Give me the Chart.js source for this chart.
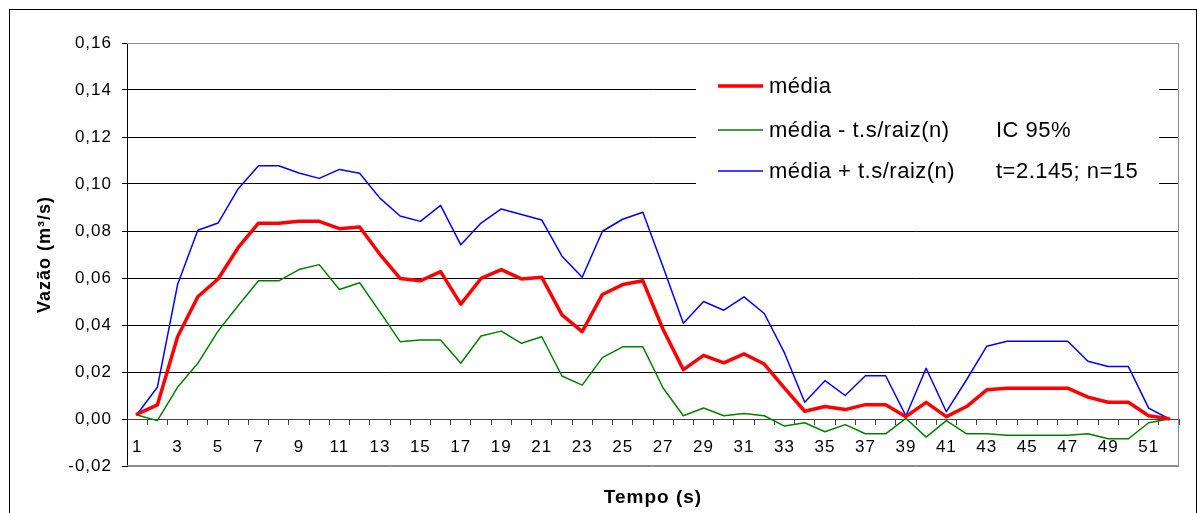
<!DOCTYPE html>
<html lang="pt">
<head>
<meta charset="utf-8">
<title>Vazão x Tempo</title>
<script src="https://cdn.jsdelivr.net/npm/chart.js@4.4.1/dist/chart.umd.min.js"></script>
<style>
  html, body { margin: 0; padding: 0; background: #fff; }
  #wrap { position: relative; width: 1199px; height: 513px; }
</style>
</head>
<body>
<div id="wrap"><canvas id="chart" width="1199" height="513"></canvas></div>
<script>
const FONT = "'Liberation Sans', Arial, sans-serif";

// tempo (s): 1..52
const tempo = [
  1, 2, 3, 4, 5, 6, 7, 8, 9, 10, 11, 12, 13, 14, 15, 16, 17, 18, 19, 20, 21, 22, 23, 24, 25, 26,
  27, 28, 29, 30, 31, 32, 33, 34, 35, 36, 37, 38, 39, 40, 41, 42, 43, 44, 45, 46, 47, 48, 49, 50, 51, 52
];

const media = [
  0.0021, 0.006, 0.035, 0.052, 0.0596, 0.073, 0.0833, 0.0833, 0.0841, 0.0841, 0.081, 0.0817, 0.0701,
  0.0598, 0.0588, 0.0627, 0.0489, 0.0598, 0.0636, 0.0596, 0.0603, 0.0443, 0.0372, 0.053, 0.0572, 0.0588,
  0.0381, 0.021, 0.0271, 0.0239, 0.0277, 0.0234, 0.0131, 0.0033, 0.0053, 0.004, 0.0061, 0.0061, 0.001,
  0.0071, 0.001, 0.0053, 0.0124, 0.0131, 0.0131, 0.0131, 0.0131, 0.0093, 0.0071, 0.0071, 0.0014, 0.0001
];

const mediaMenos = [
  0.0017, -0.0007, 0.0135, 0.0237, 0.0374, 0.0483, 0.0588, 0.0588, 0.0636, 0.0657, 0.0551, 0.058, 0.0456,
  0.0329, 0.0336, 0.0336, 0.0237, 0.0353, 0.0374, 0.0322, 0.035, 0.0183, 0.0144, 0.0261, 0.0307, 0.0307,
  0.0132, 0.0014, 0.0047, 0.0014, 0.0023, 0.0014, -0.003, -0.0016, -0.0054, -0.0024, -0.0063, -0.0063, 0.0003,
  -0.0077, -0.0007, -0.0063, -0.0063, -0.0069, -0.0069, -0.0069, -0.0069, -0.0063, -0.0084, -0.0084, -0.0016, 0
];

const mediaMais = [
  0.002, 0.0135, 0.0572, 0.0803, 0.0834, 0.098, 0.1078, 0.1078, 0.1047, 0.1024, 0.1062, 0.1046, 0.094,
  0.0864, 0.0841, 0.0909, 0.0741, 0.0834, 0.0894, 0.087, 0.0847, 0.0693, 0.0603, 0.0799, 0.085, 0.088,
  0.0647, 0.0407, 0.05, 0.0463, 0.052, 0.0449, 0.0281, 0.0071, 0.0163, 0.01, 0.0184, 0.0184, 0.0013,
  0.0216, 0.0031, 0.0167, 0.031, 0.0331, 0.0331, 0.0331, 0.0331, 0.0246, 0.0223, 0.0223, 0.0046, 0.0001
];

const legendNotes = ['', 'IC 95%', 't=2.145; n=15'];

function virgula(value) {
  return value.toFixed(2).replace('.', ',');
}

// white page + outer frame; the original text is a bit wider than Arial, so space it out
const framePlugin = {
  id: 'frame',
  beforeDraw(chart) {
    const ctx = chart.ctx;
    ctx.letterSpacing = '1px';
    ctx.save();
    ctx.fillStyle = '#fff';
    ctx.fillRect(0, 0, chart.width, chart.height);
    ctx.strokeStyle = '#000';
    ctx.lineWidth = 1;
    ctx.strokeRect(9.5, 9.5, 1187, 530);
    ctx.restore();
  },
  beforeDatasetsDraw(chart) {
    const { ctx, chartArea } = chart;
    ctx.save();
    ctx.strokeStyle = '#8c8c8c';
    ctx.lineWidth = 1;
    ctx.beginPath();
    ctx.moveTo(chartArea.left, chartArea.top + 0.5);
    ctx.lineTo(chartArea.right - 0.5, chartArea.top + 0.5);
    ctx.lineTo(chartArea.right - 0.5, chartArea.bottom - 0.5);
    ctx.lineTo(chartArea.left, chartArea.bottom - 0.5);
    ctx.stroke();
    ctx.restore();
  }
};

// legend drawn inside the plot, like the original
const innerLegend = {
  id: 'innerLegend',
  afterDatasetsDraw(chart) {
    const ctx = chart.ctx;
    const rows = [86, 130, 171];
    ctx.save();
    ctx.fillStyle = '#fff';
    ctx.fillRect(696, 58, 463, 137);
    ctx.font = '22px ' + FONT;
    ctx.letterSpacing = '0.5px';
    ctx.textBaseline = 'middle';
    chart.data.datasets.forEach((ds, i) => {
      const y = rows[i];
      ctx.strokeStyle = ds.borderColor;
      ctx.lineWidth = ds.borderWidth;
      ctx.beginPath();
      ctx.moveTo(718, y);
      ctx.lineTo(763, y);
      ctx.stroke();
      ctx.fillStyle = '#000';
      ctx.fillText(ds.label, 769, y + 1);
      if (legendNotes[i]) ctx.fillText(legendNotes[i], 996, y + 1);
    });
    ctx.restore();
  }
};

new Chart(document.getElementById('chart'), {
  type: 'line',
  data: {
    labels: tempo,
    datasets: [
      { label: 'média', data: media, borderColor: '#ff0000', borderWidth: 3.5 },
      { label: 'média - t.s/raiz(n)', data: mediaMenos, borderColor: '#008000', borderWidth: 1.5 },
      { label: 'média + t.s/raiz(n)', data: mediaMais, borderColor: '#0000ff', borderWidth: 1.5 }
    ]
  },
  options: {
    responsive: false,
    animation: false,
    layout: { padding: { top: 43, right: 20, left: 0, bottom: 0 } },
    elements: {
      point: { radius: 0 },
      line: { tension: 0, borderJoinStyle: 'round', borderCapStyle: 'round' }
    },
    plugins: {
      legend: { display: false },
      tooltip: { enabled: false },
      title: {
        display: true,
        position: 'bottom',
        fullSize: false,
        text: 'Tempo (s)',
        color: '#000',
        font: { family: FONT, size: 19, weight: 'bold' },
        padding: { top: 20, bottom: 4.2 }
      }
    },
    scales: {
      x: {
        type: 'category',
        position: { y: 0 },
        offset: true,
        grid: {
          offset: true,
          drawOnChartArea: false,
          drawTicks: true,
          tickLength: 5,
          tickColor: '#444'
        },
        border: { display: true, color: '#444', width: 1 },
        ticks: {
          autoSkip: false,
          maxRotation: 0,
          padding: 13,
          color: '#000',
          font: { family: FONT, size: 17 },
          callback(value, index) {
            return index % 2 === 0 ? tempo[index] : '';
          }
        }
      },
      y: {
        min: -0.02,
        max: 0.16,
        afterFit(scale) { scale.width = 127; },
        grid: {
          color(ctx) {
            const v = ctx.tick ? ctx.tick.value : 0;
            if (Math.abs(v + 0.02) < 1e-9 || Math.abs(v - 0.16) < 1e-9) return '#8c8c8c';
            return '#000';
          },
          lineWidth: 1,
          drawTicks: true,
          tickLength: 5,
          tickColor: '#000'
        },
        border: { display: true, color: '#000', width: 1 },
        ticks: {
          stepSize: 0.02,
          padding: 10,
          color: '#000',
          font: { family: FONT, size: 17 },
          callback(value) { return virgula(value); }
        },
        title: {
          display: true,
          text: 'Vazão (m³/s)',
          color: '#000',
          font: { family: FONT, size: 18, weight: 'bold' },
          padding: { top: 34, bottom: 0 }
        }
      }
    }
  },
  plugins: [framePlugin, innerLegend]
});
</script>
</body>
</html>
